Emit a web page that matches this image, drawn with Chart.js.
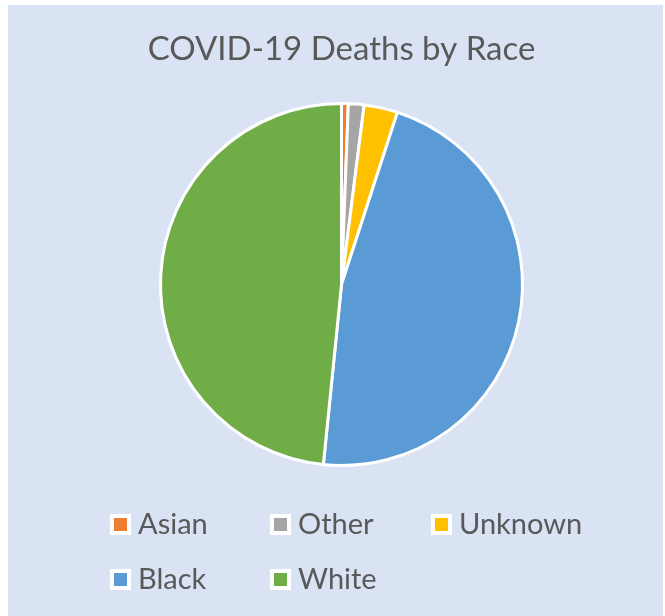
<!DOCTYPE html>
<html>
<head>
<meta charset="utf-8">
<title>COVID-19 Deaths by Race</title>
<script src="https://cdn.jsdelivr.net/npm/chart.js@4.4.1/dist/chart.umd.min.js"></script>
<style>
  html, body { margin: 0; padding: 0; background: #ffffff; }
  #wrap { width: 665px; height: 616px; }
</style>
</head>
<body>
<div id="wrap"><canvas id="raceChart" width="665" height="616"></canvas></div>
<script>
// Share of deaths (%) by race, clockwise from 12 o'clock
const chartTitle = 'COVID-19 Deaths by Race';
const races = ['Asian', 'Other', 'Unknown', 'Black', 'White'];
const deathShare = [0.6, 1.4, 3.0, 46.6, 48.4];
const raceColors = ['#ED7D31', '#A5A5A5', '#FFC000', '#5B9BD5', '#70AD47'];

const textColor = '#595959';
const fontFamily = 'Lato, "Open Sans", sans-serif';

// Background panel, title and a grid-style legend drawn on the canvas
const framePlugin = {
  id: 'frame',
  beforeDraw(chart) {
    const ctx = chart.ctx;
    ctx.save();
    ctx.fillStyle = '#ffffff';
    ctx.fillRect(0, 0, chart.width, chart.height);
    ctx.fillStyle = '#DAE3F3';
    ctx.fillRect(8, 5, 655, 611);
    ctx.restore();
  },
  afterDraw(chart) {
    const ctx = chart.ctx;
    ctx.save();
    ctx.fillStyle = textColor;
    ctx.textAlign = 'center';
    ctx.textBaseline = 'alphabetic';
    ctx.font = '33px ' + fontFamily;
    ctx.fillText(chartTitle, 341.5, 60);

    // legend: three columns, wraps to a second row
    const cols = [110, 270, 431];
    const rows = [514, 569];
    const ds = chart.data.datasets[0];
    ctx.textAlign = 'left';
    ctx.font = '29px ' + fontFamily;
    chart.data.labels.forEach((label, i) => {
      const x = cols[i % 3];
      const y = rows[Math.floor(i / 3)];
      ctx.fillStyle = '#ffffff';
      ctx.fillRect(x, y, 21, 21);
      ctx.fillStyle = ds.backgroundColor[i];
      ctx.fillRect(x + 4, y + 4, 13, 13);
      ctx.fillStyle = textColor;
      ctx.fillText(label, x + 28, y + 20);
    });
    ctx.restore();
  }
};

new Chart(document.getElementById('raceChart'), {
  type: 'pie',
  data: {
    labels: races,
    datasets: [{
      data: deathShare,
      backgroundColor: raceColors,
      borderColor: '#ffffff',
      borderWidth: 3
    }]
  },
  options: {
    responsive: false,
    devicePixelRatio: 1,
    animation: false,
    radius: 181,
    layout: {
      padding: { top: 102, bottom: 149, left: 159, right: 141 }
    },
    plugins: {
      legend: { display: false },
      title: { display: false },
      tooltip: { enabled: false }
    }
  },
  plugins: [framePlugin]
});
</script>
</body>
</html>
